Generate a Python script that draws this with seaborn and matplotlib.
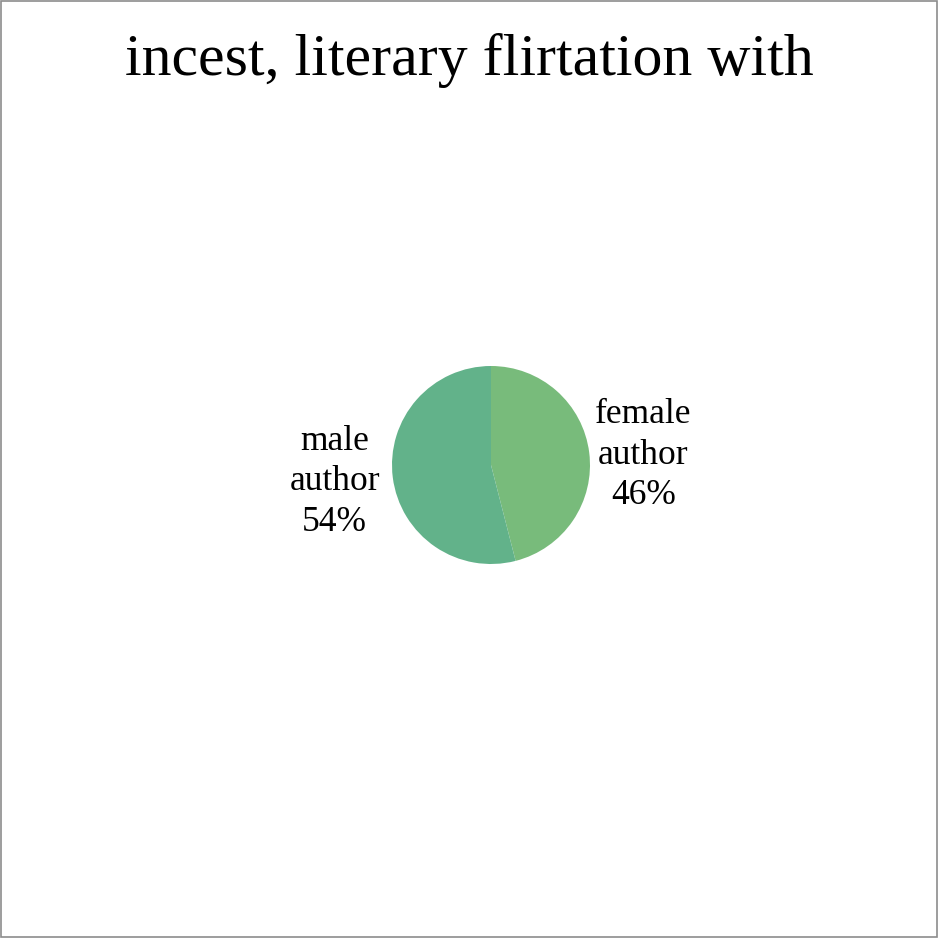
import matplotlib
matplotlib.use("Agg")
import matplotlib.pyplot as plt
from matplotlib.patches import Rectangle
import seaborn as sns

title = "incest, literary flirtation with"
categories = ["female\nauthor", "male\nauthor"]
percents = [46, 54]
colors = ["#78BB7B", "#62B28A"]

sns.set_theme(style="white")
plt.rcParams['font.family'] = ['Liberation Serif', 'DejaVu Serif']

fig = plt.figure(figsize=(9.38, 9.38), dpi=100)
fig.patch.set_facecolor("white")
fig.patches.append(Rectangle((0.0015, 0.0015), 0.997, 0.997, transform=fig.transFigure,
                             fill=False, edgecolor="#8c8c8c", linewidth=1.2))

W = 938
ax = fig.add_axes([392 / W, (W - 564) / W, 198 / W, 198 / W])
labels = [f"{c}\n{p}%" for c, p in zip(categories, percents)]
wedges, texts = ax.pie(percents, colors=colors, startangle=90, counterclock=False,
                       labels=labels, labeldistance=1.56,
                       wedgeprops=dict(linewidth=0),
                       textprops=dict(fontsize=25.5, color="black", linespacing=1.3))
label_pos = [(1.54, 0.10), (-1.58, -0.17)]
for t, pos in zip(texts, label_pos):
    t.set_position(pos)
    t.set_horizontalalignment("center")
    t.set_verticalalignment("center")
ax.set_aspect("equal")
ax.set_xlim(-1, 1)
ax.set_ylim(-1, 1)
ax.axis("off")

fig.text(0.5, 1 - 60 / W, title, ha="center", va="center", fontsize=43, color="black")

fig.savefig("out.png", dpi=100)
